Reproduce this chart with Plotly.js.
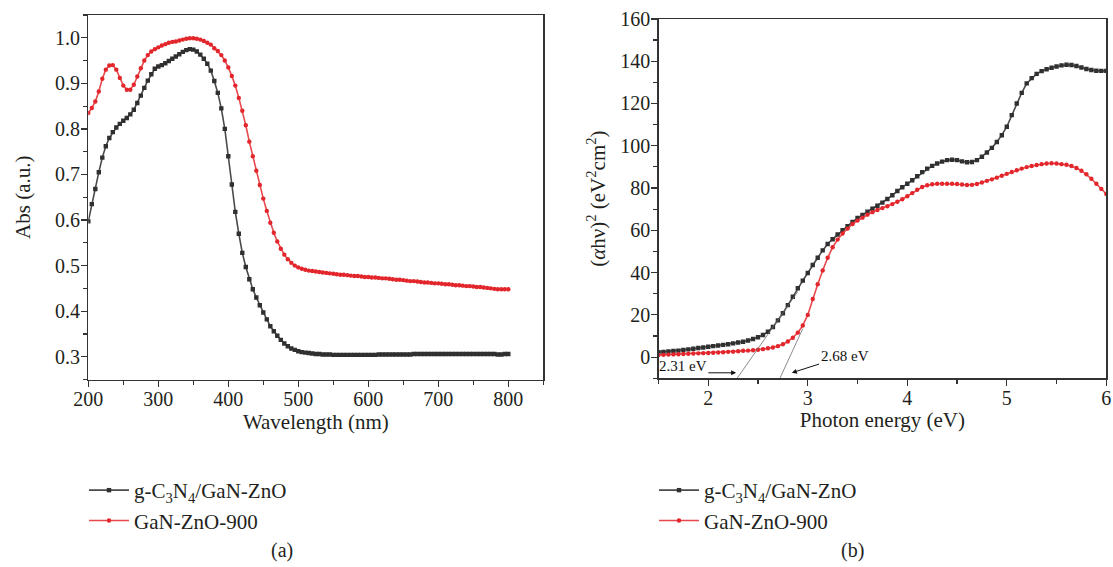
<!DOCTYPE html>
<html>
<head>
<meta charset="utf-8">
<script src="https://cdn.plot.ly/plotly-3.0.1.min.js"></script>
<style>html,body{margin:0;padding:0;background:#fff;}#chart{width:1113px;height:567px;}</style>
</head>
<body>
<div id="chart"></div>
<script>
// ---------- (a) UV-vis absorbance ----------
const wavelength = [200,205,210,215,220,225,230,235,240,245,250,255,260,265,270,275,280,285,290,295,
 300,305,310,315,320,325,330,335,340,345,350,355,360,365,370,375,380,385,390,395,
 400,405,410,415,420,425,430,435,440,445,450,455,460,465,470,475,480,485,490,495,
 500,505,510,515,520,525,530,535,540,545,550,555,560,565,570,575,580,585,590,595,
 600,605,610,615,620,625,630,635,640,645,650,655,660,665,670,675,680,685,690,695,
 700,705,710,715,720,725,730,735,740,745,750,755,760,765,770,775,780,785,790,795,800];
const absComposite = [0.597,0.635,0.668,0.705,0.737,0.762,0.780,0.793,0.803,0.811,0.818,0.824,0.832,0.842,0.857,0.873,0.890,0.906,0.920,0.932,
 0.937,0.940,0.944,0.949,0.954,0.959,0.964,0.969,0.973,0.975,0.974,0.970,0.963,0.954,0.943,0.928,0.905,0.879,0.845,0.800,
 0.740,0.678,0.618,0.570,0.528,0.497,0.470,0.448,0.430,0.413,0.397,0.382,0.367,0.356,0.346,0.337,0.329,0.323,0.318,0.315,
 0.312,0.310,0.309,0.308,0.307,0.306,0.306,0.305,0.305,0.305,0.304,0.304,0.304,0.304,0.304,0.304,0.304,0.304,0.304,0.304,
 0.304,0.304,0.304,0.305,0.305,0.305,0.305,0.305,0.305,0.305,0.305,0.305,0.305,0.306,0.306,0.306,0.306,0.306,0.306,0.306,
 0.306,0.306,0.306,0.306,0.306,0.306,0.306,0.306,0.306,0.306,0.306,0.306,0.306,0.306,0.306,0.306,0.306,0.305,0.305,0.306,0.306];
const absGaNZnO = [0.835,0.846,0.860,0.882,0.910,0.930,0.939,0.940,0.930,0.912,0.895,0.886,0.886,0.897,0.915,0.933,0.950,0.962,0.970,0.975,
 0.979,0.983,0.986,0.989,0.991,0.992,0.994,0.996,0.998,0.999,0.999,0.998,0.996,0.993,0.989,0.985,0.977,0.971,0.962,0.950,
 0.935,0.916,0.895,0.868,0.840,0.808,0.772,0.740,0.708,0.677,0.647,0.620,0.594,0.572,0.553,0.537,0.524,0.514,0.506,0.500,
 0.496,0.493,0.491,0.489,0.488,0.487,0.486,0.485,0.484,0.483,0.482,0.481,0.480,0.480,0.479,0.478,0.477,0.477,0.476,0.475,
 0.475,0.474,0.474,0.473,0.472,0.472,0.471,0.470,0.469,0.469,0.468,0.467,0.466,0.466,0.465,0.464,0.463,0.463,0.462,0.461,
 0.461,0.460,0.459,0.459,0.458,0.457,0.457,0.456,0.455,0.455,0.454,0.453,0.453,0.452,0.451,0.450,0.449,0.448,0.448,0.448,0.448];

// ---------- (b) Tauc plot ----------
const photonEnergy = [1.50,1.55,1.60,1.65,1.70,1.75,1.80,1.85,1.90,1.95,2.00,2.05,2.10,2.15,2.20,2.25,2.30,2.35,2.40,2.45,
 2.50,2.55,2.60,2.65,2.70,2.75,2.80,2.85,2.90,2.95,3.00,3.05,3.10,3.15,3.20,3.25,3.30,3.35,3.40,3.45,
 3.50,3.55,3.60,3.65,3.70,3.75,3.80,3.85,3.90,3.95,4.00,4.05,4.10,4.15,4.20,4.25,4.30,4.35,4.40,4.45,
 4.50,4.55,4.60,4.65,4.70,4.75,4.80,4.85,4.90,4.95,5.00,5.05,5.10,5.15,5.20,5.25,5.30,5.35,5.40,5.45,
 5.50,5.55,5.60,5.65,5.70,5.75,5.80,5.85,5.90,5.95,6.00];
const taucComposite = [2.3,2.5,2.7,2.9,3.1,3.4,3.7,4.0,4.3,4.6,4.9,5.2,5.5,5.8,6.1,6.5,6.9,7.3,7.9,8.6,
 9.4,10.5,12.0,14.3,17.4,20.8,24.6,28.6,32.6,36.2,39.8,43.6,47.0,50.5,53.5,55.8,58.0,60.0,62.0,64.0,
 65.8,67.3,68.8,70.2,71.6,73.1,74.8,76.6,78.6,80.4,82.0,83.7,85.6,87.5,89.2,90.5,91.6,92.5,93.2,93.4,
 93.2,92.6,92.2,92.3,93.2,94.8,96.8,99.0,101.8,105.0,109.0,114.5,120.0,125.0,129.5,132.0,134.0,135.3,136.2,136.9,
 137.5,138.0,138.3,138.2,137.7,137.0,136.3,135.8,135.5,135.4,135.4];
const taucGaNZnO = [1.0,1.1,1.2,1.3,1.4,1.5,1.6,1.7,1.8,1.9,2.0,2.1,2.2,2.3,2.5,2.6,2.8,3.0,3.1,3.3,
 3.5,3.8,4.2,4.6,5.2,6.1,7.4,9.2,11.6,15.0,20.0,27.5,34.5,41.0,47.0,52.0,55.6,58.5,60.8,63.0,
 64.6,66.0,67.4,68.6,69.6,70.5,71.4,72.4,73.5,74.7,76.1,77.6,79.2,80.5,81.3,81.8,82.0,82.0,82.0,82.0,
 81.9,81.7,81.4,81.5,81.9,82.6,83.4,84.1,84.9,85.8,86.7,87.6,88.4,89.2,89.9,90.4,90.9,91.3,91.6,91.7,
 91.6,91.3,91.0,90.4,89.5,88.2,86.5,84.4,82.0,79.6,77.2];
// extrapolated tangent lines
const fitCompositeX = [2.29, 2.90];
const fitCompositeY = [-10, 31];
const fitGaNZnOX = [2.72, 2.95];
const fitGaNZnOY = [-10, 13.5];

const seriesNames = ['g-C<sub>3</sub>N<sub>4</sub>/GaN-ZnO', 'GaN-ZnO-900'];
const BLACK = '#303030', BLACKLINE = '#4a4a4a', RED = '#e2262b', REDLINE = '#e8494d';
const FONT = 'Liberation Serif, Times New Roman, serif';

function series(x, y, name, xa, ya, leg, color, lineColor, symbol) {
  return {x: x, y: y, name: name, xaxis: xa, yaxis: ya, legend: leg, type: 'scatter',
    mode: 'lines+markers', line: {color: lineColor, width: 1.6},
    marker: {color: color, size: 4.4, symbol: symbol}, hoverinfo: 'x+y'};
}

const traces = [
  series(wavelength, absComposite, seriesNames[0], 'x', 'y', 'legend', BLACK, BLACKLINE, 'square'),
  series(wavelength, absGaNZnO, seriesNames[1], 'x', 'y', 'legend', RED, REDLINE, 'circle'),
  series(photonEnergy, taucComposite, seriesNames[0], 'x2', 'y2', 'legend2', BLACK, BLACKLINE, 'square'),
  series(photonEnergy, taucGaNZnO, seriesNames[1], 'x2', 'y2', 'legend2', RED, REDLINE, 'circle'),
  {x: fitCompositeX, y: fitCompositeY, xaxis: 'x2', yaxis: 'y2', mode: 'lines', showlegend: false,
   line: {color: '#6d6d6d', width: 0.8}, hoverinfo: 'skip'},
  {x: fitGaNZnOX, y: fitGaNZnOY, xaxis: 'x2', yaxis: 'y2', mode: 'lines', showlegend: false,
   line: {color: '#6d6d6d', width: 0.8}, hoverinfo: 'skip'}
];

const axisBase = {
  showline: true, linecolor: '#333', linewidth: 1.2, mirror: true,
  ticks: 'outside', ticklen: 6, tickwidth: 1.2, tickcolor: '#333',
  showgrid: false, zeroline: false, automargin: false,
  tickfont: {family: FONT, size: 20, color: '#231f20'}
};
function ax(extra) { return Object.assign({}, axisBase, extra); }
const TITLEFONT = {family: FONT, size: 21, color: '#231f20'};

const W = 1113, H = 567;
const layout = {
  width: W, height: H,
  margin: {l: 0, r: 0, t: 0, b: 0},
  paper_bgcolor: '#fff', plot_bgcolor: '#fff',
  font: {family: FONT, size: 20, color: '#231f20'},
  showlegend: true,
  xaxis: ax({domain: [88.3 / W, 543.3 / W], anchor: 'y', range: [200, 850], tick0: 200, dtick: 100,
    ticklabelstandoff: -5,
    minor: {ticks: 'outside', dtick: 50, ticklen: 4, tickwidth: 1.2, tickcolor: '#333', showgrid: false},
    title: {text: 'Wavelength (nm)', standoff: 0, font: TITLEFONT}}),
  yaxis: ax({domain: [1 - 379.5 / H, 1 - 15 / H], anchor: 'x', range: [0.25, 1.05], tick0: 0.3, dtick: 0.1, tickformat: '.1f',
    ticklabelstandoff: -3,
    minor: {ticks: 'outside', dtick: 0.05, ticklen: 4, tickwidth: 1.2, tickcolor: '#333', showgrid: false},
    title: {text: 'Abs (a.u.)', standoff: 18, font: TITLEFONT}}),
  xaxis2: ax({domain: [658.5 / W, 1106.3 / W], anchor: 'y2', range: [1.5, 6], tick0: 2, dtick: 1,
    ticklabelstandoff: -5,
    minor: {ticks: 'outside', dtick: 0.5, ticklen: 4, tickwidth: 1.2, tickcolor: '#333', showgrid: false},
    title: {text: 'Photon energy (eV)', standoff: 0, font: TITLEFONT}}),
  yaxis2: ax({domain: [1 - 378.3 / H, 1 - 18.9 / H], anchor: 'x2', range: [-10, 160], tick0: 0, dtick: 20,
    ticklabelstandoff: -3,
    minor: {ticks: 'outside', dtick: 10, ticklen: 4, tickwidth: 1.2, tickcolor: '#333', showgrid: false},
    title: {text: '(<i>α</i>hν)<sup>2</sup> (eV<sup>2</sup>cm<sup>2</sup>)', standoff: 9, font: TITLEFONT}}),
  legend: {x: 84 / W, xanchor: 'left', y: 1 - 470 / H, yanchor: 'top', bgcolor: 'rgba(0,0,0,0)',
    font: {family: FONT, size: 21, color: '#231f20'}, tracegroupgap: 0, itemwidth: 40},
  legend2: {x: 654 / W, xanchor: 'left', y: 1 - 470 / H, yanchor: 'top', bgcolor: 'rgba(0,0,0,0)',
    font: {family: FONT, size: 21, color: '#231f20'}, tracegroupgap: 0, itemwidth: 40},
  annotations: [
    {xref: 'x2', yref: 'y2', axref: 'x2', ayref: 'y2', x: 2.28, y: -7.4, ax: 1.745, ay: -7.4,
     text: '2.31 eV', height: 30, valign: 'top', showarrow: true, arrowhead: 2, arrowsize: 1,
     arrowwidth: 1, arrowcolor: '#111', standoff: 0, startstandoff: 0,
     font: {family: FONT, size: 15, color: '#111'}},
    {xref: 'x2', yref: 'y2', axref: 'x2', ayref: 'y2', x: 2.84, y: -7.4, ax: 3.37, ay: 0.6,
     text: '2.68 eV', showarrow: true, arrowhead: 2, arrowsize: 1, arrowwidth: 1, arrowcolor: '#111',
     standoff: 0, startstandoff: 0, font: {family: FONT, size: 15, color: '#111'}},
    {xref: 'paper', yref: 'paper', x: 282 / W, y: 1 - 550 / H, text: '(a)', showarrow: false,
     xanchor: 'center', yanchor: 'middle', font: {family: FONT, size: 20, color: '#231f20'}},
    {xref: 'paper', yref: 'paper', x: 852 / W, y: 1 - 550 / H, text: '(b)', showarrow: false,
     xanchor: 'center', yanchor: 'middle', font: {family: FONT, size: 20, color: '#231f20'}}
  ]
};

Plotly.newPlot('chart', traces, layout, {displayModeBar: false, staticPlot: true});
</script>
</body>
</html>
